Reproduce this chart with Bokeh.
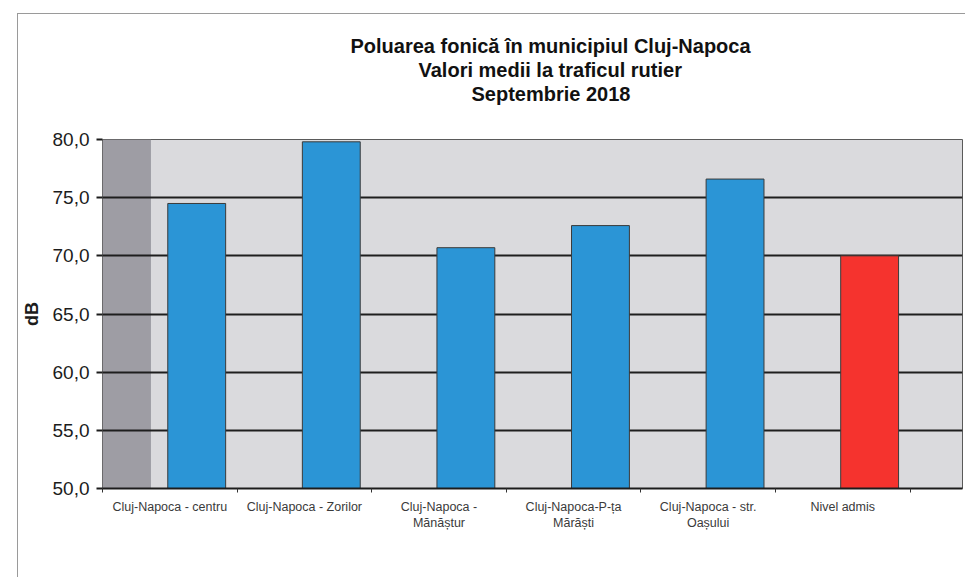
import numpy as np
from bokeh.plotting import figure
from bokeh.models import (ColumnDataSource, Range1d, FixedTicker, Title, BoxAnnotation, Spacer)
from bokeh.layouts import row, column
from bokeh.transform import dodge
from bokeh.embed import file_html
from bokeh.resources import INLINE

# ---- data ----
categories = ["Cluj-Napoca - centru", "Cluj-Napoca - Zorilor", "Cluj-Napoca -\nMănăștur",
              "Cluj-Napoca-P-ța\nMărăști", "Cluj-Napoca - str.\nOașului", "Nivel admis"]
values = [74.5, 79.8, 70.7, 72.6, 76.6, 70.0]
bar_colors = ["#2b95d6", "#2b95d6", "#2b95d6", "#2b95d6", "#2b95d6", "#f5332e"]
y_ticks = [50, 55, 60, 65, 70, 75, 80]
y_tick_labels = ["50,0", "55,0", "60,0", "65,0", "70,0", "75,0", "80,0"]
title_lines = ["Poluarea fonică în municipiul Cluj-Napoca",
               "Valori medii la traficul rutier",
               "Septembrie 2018"]
title_offsets = [248, 316, 369]   # px from plot-area left, to centre the lines
y_label = "dB"

FONT = "Liberation Sans"

x_pos = np.arange(len(categories)) + 0.5
src = ColumnDataSource(dict(x=x_pos, top=values, color=bar_colors))

p = figure(width=948, height=564, output_backend="svg", toolbar_location=None,
           x_range=Range1d(0, 6.39), y_range=Range1d(50, 80),
           min_border_left=84, min_border_right=4, min_border_top=125, min_border_bottom=90,
           background_fill_color="#dadadd", border_fill_color="white")
p.styles = {"border-left": "1px solid #9a9a9a", "border-top": "1px solid #9a9a9a"}

# 3D wall shading band on the left
p.add_layout(BoxAnnotation(right=0.36, fill_color="#9e9da4", fill_alpha=1.0,
                           line_color=None, level="image"))

p.vbar(x=dodge("x", 0.2, range=p.x_range), top="top", bottom=50, width=0.43,
       source=src, fill_color="color", line_color="#3a3a3a", line_width=1)

# title: spacer nearest the plot area, then the three lines
p.add_layout(Title(text=" ", text_font_size="20px", standoff=11), "above")
for txt, off in reversed(list(zip(title_lines, title_offsets))):
    p.add_layout(Title(text=txt, align="left", offset=off, standoff=0,
                       text_font=FONT, text_font_size="20px", text_font_style="bold",
                       text_color="#111111"), "above")

# y axis
p.yaxis.ticker = FixedTicker(ticks=y_ticks)
p.yaxis.major_label_overrides = {t: l for t, l in zip(y_ticks, y_tick_labels)}
p.yaxis.major_label_text_font = FONT
p.yaxis.major_label_text_font_size = "19px"
p.yaxis.major_label_text_color = "#1c1c1c"
p.yaxis.major_label_standoff = 7
p.yaxis.major_tick_out = 6
p.yaxis.major_tick_in = 0
p.yaxis.major_tick_line_color = "#1c1c1c"
p.yaxis.major_tick_line_width = 2
p.yaxis.minor_tick_line_color = None
p.yaxis.axis_line_color = None
p.yaxis.axis_label = y_label
p.yaxis.axis_label_text_font = FONT
p.yaxis.axis_label_text_font_size = "18px"
p.yaxis.axis_label_text_font_style = "bold"
p.yaxis.axis_label_text_color = "#1c1c1c"
p.yaxis.axis_label_standoff = 8

# x axis
p.xaxis.ticker = FixedTicker(ticks=list(x_pos), minor_ticks=list(range(len(categories) + 1)))
p.xaxis.major_label_overrides = {float(x): c for x, c in zip(x_pos, categories)}
p.xaxis.major_label_text_font = FONT
p.xaxis.major_label_text_font_size = "12.5px"
p.xaxis.major_label_text_color = "#3a3a3a"
p.xaxis.major_label_standoff = 5
p.xaxis.major_tick_line_color = None
p.xaxis.minor_tick_out = 4
p.xaxis.minor_tick_in = 0
p.xaxis.minor_tick_line_color = "#333333"
p.xaxis.axis_line_color = "#1c1c1c"
p.xaxis.axis_line_width = 2

# grid
p.xgrid.grid_line_color = None
p.ygrid.ticker = FixedTicker(ticks=y_ticks)
p.ygrid.grid_line_color = "#1e1e1e"
p.ygrid.grid_line_width = 2

p.outline_line_color = "#5a5a5a"
p.outline_line_width = 1

layout = column(Spacer(width=10, height=13), row(Spacer(width=17, height=10), p))

open("out.html", "w").write(file_html(layout, INLINE))
